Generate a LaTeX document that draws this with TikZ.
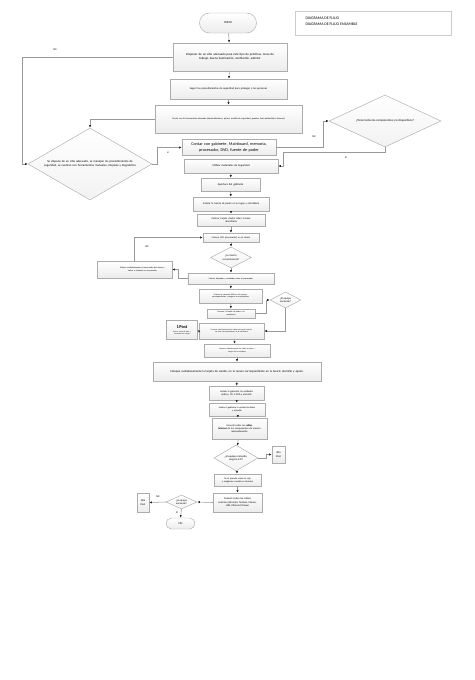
\documentclass[tikz,border=0pt]{standalone}
\usepackage{fontspec}
\setmainfont{Carlito}
\usetikzlibrary{shapes.geometric,arrows.meta}

\newcommand{\fsz}[1]{\fontsize{#1}{\fpeval{1.25*#1}}\selectfont}

\tikzset{
  box/.style={draw=gray!65, line width=0.45pt, top color=white, bottom color=gray!15,
    inner sep=0.5pt, align=center, font=\fontsize{2.6}{3.2}\selectfont},
  dec/.style={diamond, draw=gray!65, line width=0.45pt, top color=white, bottom color=gray!10,
    inner sep=0pt},
  term/.style={box, rounded corners=#1},
  flow/.style={draw=gray!80, line width=0.55pt, -{Latex[length=2.6pt,width=2.2pt,fill=black!85,black!85]}},
  lbl/.style={font=\fontsize{2.6}{3}\selectfont}
}

\begin{document}
\begin{tikzpicture}[x=1pt,y=-1pt]
\useasboundingbox (0,0) rectangle (474,680);

% titulo
\node [draw=gray!40, fill=white, minimum width=156, minimum height=24] (titulo) at (373,23) {};
\node [anchor=west, font=\fsz{3.9}] (tit1) at (302,18.5) {DIAGRAMA DE FLUJO};
\node [anchor=west, font=\fsz{3.9}] (tit2) at (302,24) {DIAGRAMA DE FLUJO ENSAMBLE};

% pasos
\node [term=10pt, minimum width=57, minimum height=20, font=\fsz{3}] (inicio) at (228,23) {INICIO};
\node [box, text width=113, minimum height=28, font=\fsz{3.1}] (sitio) at (230,57)
  {Disponer de un sitio adecuado para este tipo de prácticas, mesa de\\ trabajo, buena iluminación, ventilación, extintor};
\node [box, text width=116, minimum height=20, font=\fsz{2.7}] (seguir) at (228.5,89)
  {Seguir los procedimientos de seguridad para proteger a las personas};
\node [box, text width=146, minimum height=28, font=\fsz{2.25}] (herram) at (228.5,119)
  {Contar con la herramienta adecuada (destornilladores, pinzas, manilla de seguridad, guantes, bata antiestática, linterna)};

\node [dec, minimum width=124, minimum height=72,
  label={[text width=96, align=center, font=\fsz{3}]center:Se dispone de un sitio adecuado, se manejan los procedimientos de seguridad, se cuentan con herramientas manuales, limpieza y diagnóstico}]
  (dsitio) at (90,164) {};

\node [box, text width=93, minimum height=16, font=\fsz{4.2}] (contar) at (229,147.5)
  {Contar con gabinete, Mainboard, memoria,\\ procesador, DVD, fuente de poder};
\node [dec, minimum width=112, minimum height=52,
  label={[font=\fsz{3}]center:¿Tiene todos los componentes y/o dispositivos?}]
  (dcomp) at (385,121) {};

\node [box, text width=93, minimum height=14, font=\fsz{2.8}] (materiales) at (231,166)
  {Utilizar materiales de Seguridad};
\node [box, text width=58, minimum height=13, font=\fsz{2.8}] (apertura) at (230.5,184.5)
  {Apertura del gabinete};
\node [box, text width=75, minimum height=14] (fuente) at (231,204)
  {Instalar la fuente de poder en su lugar y atornillarla};
\node [box, text width=67, minimum height=12] (tarjeta) at (231,220)
  {Colocar tarjeta madre sobre la base\\ atornillarla};
\node [box, text width=55, minimum height=9, font=\fsz{2.4}] (cpu) at (231,237.5)
  {Colocar CPU (procesador) en el zócalo};
\node [dec, minimum width=41, minimum height=21,
  label={[align=center, font=\fsz{2.6}]center:¿Lo inserto\\ correctamente?}]
  (dcpu) at (231,257.5) {};
\node [box, text width=85, minimum height=11, font=\fsz{2.1}] (disipa) at (231,278.5)
  {Colocar disipador y ventilador sobre el procesador};
\node [box, text width=74, minimum height=17, font=\fsz{2.1}] (retirar) at (134.5,269.5)
  {\hspace*{16pt}Retirar cuidadosamente el procesador del zócalo y\\ \hspace*{16pt}volver a colocarlo en su posición};
\node [box, text width=62, minimum height=14, font=\fsz{2}] (memoria) at (230.5,296)
  {Colocar la memoria RAM en las ranuras\\ correspondientes y asegurar sus sujetadores};
\node [box, text width=47, minimum height=9, font=\fsz{2}] (conpoder) at (231,313.5)
  {Conectar la fuente de poder a la\\ mainboard};
\node [dec, minimum width=31, minimum height=16,
  label={[align=center, font=\fsz{2.6}]center:¿El equipo\\ enciende?}]
  (denc1) at (285.5,300) {};
\node [box, text width=64, minimum height=16, font=\fsz{1.8}] (panel) at (231.5,331)
  {Conectar cuidadosamente los cables del panel frontal a\\ los pines correspondientes de la mainboard};
\node [box, text width=30, minimum height=19, font=\fsz{1.7}] (post1) at (182,330)
  {{\fsz{4.4}\bfseries 1 Post}\\[1.5pt] Revisar memoria RAM y\\ conexiones de energía};
\node [box, text width=65, minimum height=13, font=\fsz{1.8}] (datos) at (237,350.5)
  {Conectar cuidadosamente los cables de datos y\\ energía de las unidades};
\node [box, text width=167, minimum height=19, font=\fsz{3}] (sonido) at (237,371.5)
  {Coloque cuidadosamente la tarjeta de sonido, en la ranura correspondiente en la board, atornille y ajuste.};
\node [box, text width=54, minimum height=14, font=\fsz{2.5}] (opticas) at (236.5,393)
  {Instale al gabinete las unidades\\ ópticas, CD o DVD y atornille};
\node [box, text width=55, minimum height=13, font=\fsz{2.3}] (disket) at (237,409.5)
  {Instale al gabinete la unidad de disket\\ y atornille};
\node [box, text width=54, minimum height=21, font=\fsz{2.5}] (internos) at (239.5,428.5)
  {Conecte todos los \textbf{cables}\\ \textbf{internos} de los componentes de manera\\ adecuadamente};
\node [dec, minimum width=44, minimum height=26,
  label={[align=center, font=\fsz{2.7}]center:¿el equipo enciende,\\ carga la S.O?}]
  (denc2) at (236,458) {};
\node [box, text width=12, minimum height=17, font=\fsz{2.7}] (post2) at (278.5,454.5)
  {2Do\\ Post};
\node [box, text width=46, minimum height=12, font=\fsz{2.4}] (caja) at (237.5,480)
  {Si no prende revise la caja\\ y asegúrese cuando se termine};
\node [box, text width=48, minimum height=19, font=\fsz{2.6}] (externos) at (237.5,502.5)
  {Conecte todos los cables\\ externos (Monitor, Teclado, Mouse,\\ USB, Ethernet) Power};
\node [dec, minimum width=31, minimum height=14,
  label={[align=center, font=\fsz{2.6}]center:¿el equipo\\ enciende?}]
  (denc3) at (181.5,502) {};
\node [box, text width=11, minimum height=19, font=\fsz{2.7}] (post3) at (143,502.5)
  {3Do\\ Post};
\node [term=5.5pt, minimum width=29, minimum height=11, font=\fsz{2.8}] (fin) at (180.5,523.5) {FIN};

% conectores
\draw [flow] (inicio) -- (sitio);
\draw [flow] (sitio) -- (seguir);
\draw [flow] (seguir) -- (herram);
\draw [flow] (sitio.west) -- (22,57) -- (22,164) -- (dsitio.west);
\node [lbl] (no1) at (55,50) {NO};
\draw [flow] (herram.west) -| (dsitio.north);
\draw [flow] (dsitio.east) -- ++(5,0) |- (contar.west);
\node [lbl] (si1) at (168,153) {si};
\draw [flow] (contar.east) -- (323,147.5) |- (dcomp.west);
\node [lbl] (no2) at (314,137) {NO};
\draw [flow] (dcomp.south) -- ++(0,5) -| ([xshift=5pt]materiales.east) -- (materiales.east);
\node [lbl] (si2) at (346,158) {Si};

\draw [flow] (materiales) -- (apertura);
\draw [flow] (apertura) -- (fuente);
\draw [flow] (fuente) -- (tarjeta);
\draw [flow] (tarjeta) -- (cpu);
\draw [flow] (cpu) -- (dcpu);
\draw [flow] (dcpu) -- (disipa);
\draw [flow] (disipa.west) -- ++(-10,0) |- (retirar.east);
\draw [flow] (retirar.north) |- (cpu.west);
\node [lbl] (no3) at (147,247) {NO};
\draw [flow] (disipa) -- (memoria);
\draw [flow] (memoria) -- (conpoder);
\draw [flow] (conpoder.east) -- ++(11,0) |- (denc1.west);
\draw [flow] (denc1.south) |- (panel.east);
\draw [flow] (panel.west) -- (post1.east);
\draw [flow] (panel) -- (datos);
\draw [flow] (datos) -- (sonido);
\draw [flow] (sonido) -- (opticas);
\draw [flow] (opticas) -- (disket);
\draw [flow] (disket) -- (internos);
\draw [flow] (internos) -- (denc2);
\draw [flow] (denc2.east) -- ++(8,0) |- (post2.west);
\draw [flow] (denc2) -- (caja);
\draw [flow] (caja) -- (externos);
\draw [flow] (externos.west) -- (denc3.east);
\draw [flow] (denc3.west) -- (post3.east);
\node [lbl] (no4) at (158,497) {NO};
\draw [flow] (denc3.south) -- (fin.north);
\node [lbl] (si3) at (177,513) {SI};
\end{tikzpicture}
\end{document}
